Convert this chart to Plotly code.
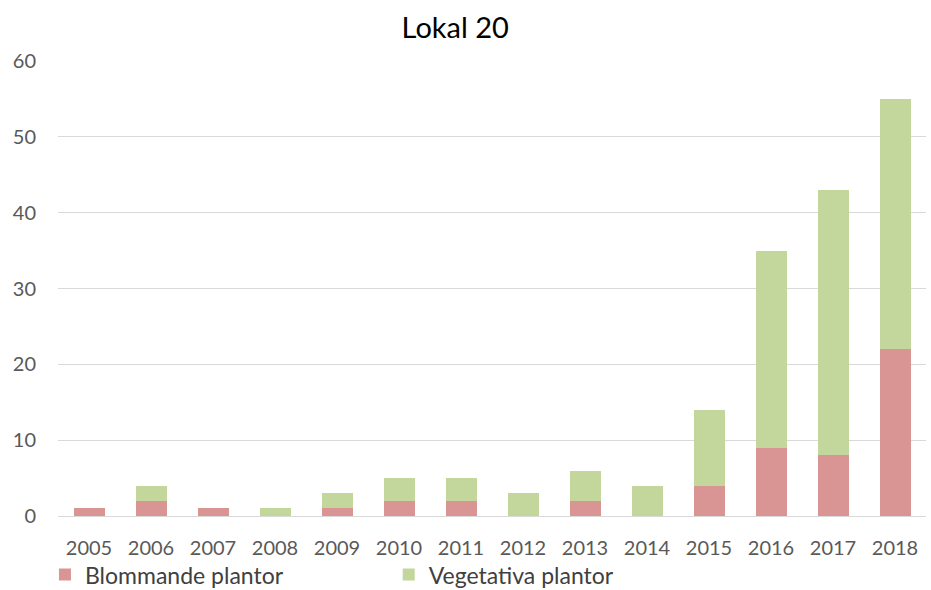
import plotly.graph_objects as go

years = ["2005", "2006", "2007", "2008", "2009", "2010", "2011", "2012", "2013", "2014", "2015", "2016", "2017", "2018"]
blommande = [1, 2, 1, 0, 1, 2, 2, 0, 2, 0, 4, 9, 8, 22]
vegetativa = [0, 2, 0, 1, 2, 3, 3, 3, 4, 4, 10, 26, 35, 33]

font = "Lato, 'Open Sans', sans-serif"

fig = go.Figure()
fig.add_trace(go.Bar(x=years, y=blommande, name="Blommande plantor", marker_color="#D99594",
                     marker_line_width=0, legend="legend", showlegend=True))
fig.add_trace(go.Bar(x=years, y=vegetativa, name="Vegetativa plantor", marker_color="#C3D69B",
                     marker_line_width=0, legend="legend2", showlegend=True))

legend_common = dict(orientation="h", xanchor="left", yref="container", y=0.026, yanchor="middle",
                     font=dict(family=font, size=23, color="#404040"),
                     itemwidth=30, bgcolor="rgba(0,0,0,0)", visible=True)

fig.update_layout(
    showlegend=True,
    barmode="stack",
    bargap=0.5,
    width=931, height=590,
    margin=dict(l=58, r=5, t=61, b=74, autoexpand=False),
    paper_bgcolor="white", plot_bgcolor="white",
    title=dict(text="Lokal 20", x=0.489, xanchor="center", y=0.953, yanchor="middle",
               font=dict(family=font, size=29, color="#000000")),
    font=dict(family=font, size=20, color="#595959"),
    legend=dict(x=-0.015, **legend_common),
    legend2=dict(x=0.381, **legend_common),
    xaxis=dict(showgrid=False, ticks="", showline=True, linecolor="#D9D9D9", linewidth=1,
               ticklabelstandoff=14, tickfont=dict(size=20, color="#595959")),
    yaxis=dict(range=[0, 60], dtick=10, showgrid=True, gridcolor="#D9D9D9", gridwidth=1,
               zeroline=False, ticks="", ticklabelstandoff=21,
               tickfont=dict(size=20, color="#595959")),
)

fig.write_html("out.html", config={"displayModeBar": False},
               post_script="document.body.style.margin='0';document.body.style.overflow='hidden';")
